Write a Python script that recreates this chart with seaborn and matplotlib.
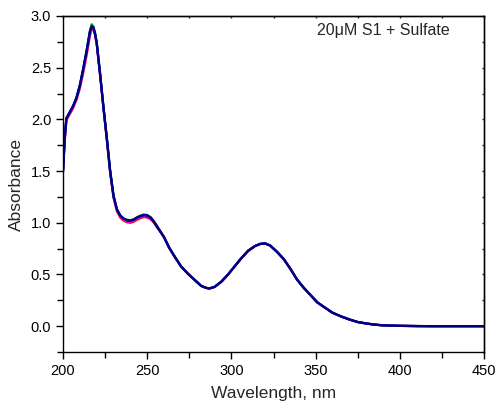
import numpy as np
import pandas as pd
import seaborn as sns
import matplotlib
matplotlib.use("Agg")
from matplotlib import pyplot as plt
from matplotlib.ticker import MultipleLocator

# wavelengths (nm)
wl_head = [200, 201, 202, 204, 206, 208, 210, 212, 214, 216, 217, 218, 219, 220, 222, 224,
           226, 228, 230, 232, 234, 236, 238, 240, 242, 244, 246, 248, 250, 252, 254, 256]
wl_tail = [258, 260, 263, 266, 270, 274, 278, 282, 285, 287, 290, 294, 298, 302, 306, 310,
           314, 317, 320, 323, 327, 331, 335, 339, 343, 347, 351, 355, 360, 365, 370, 375,
           380, 385, 390, 400, 410, 420, 430, 440, 450]

# absorbance, short wavelength part (curves differ a little here)
red_head = [1.49, 1.79, 1.99, 2.05, 2.11, 2.19, 2.30, 2.45, 2.62, 2.81, 2.87, 2.87, 2.82, 2.73, 2.43, 2.11,
            1.80, 1.48, 1.24, 1.11, 1.05, 1.02, 1.005, 1.00, 1.01, 1.03, 1.045, 1.055, 1.05, 1.035, 1.00, 0.95]
mag_head = [1.50, 1.80, 2.00, 2.06, 2.12, 2.20, 2.31, 2.47, 2.64, 2.83, 2.88, 2.88, 2.82, 2.73, 2.43, 2.11,
            1.81, 1.49, 1.25, 1.12, 1.06, 1.03, 1.015, 1.01, 1.02, 1.04, 1.055, 1.065, 1.06, 1.04, 1.005, 0.955]
grn_head = [1.51, 1.82, 2.01, 2.07, 2.13, 2.21, 2.33, 2.49, 2.67, 2.86, 2.92, 2.90, 2.84, 2.75, 2.45, 2.12,
            1.82, 1.50, 1.26, 1.13, 1.07, 1.04, 1.03, 1.025, 1.035, 1.055, 1.07, 1.08, 1.075, 1.055, 1.015, 0.965]
nav_head = [1.50, 1.82, 2.01, 2.07, 2.13, 2.21, 2.33, 2.49, 2.66, 2.85, 2.90, 2.89, 2.83, 2.74, 2.44, 2.12,
            1.82, 1.50, 1.26, 1.13, 1.07, 1.04, 1.025, 1.02, 1.03, 1.05, 1.065, 1.075, 1.07, 1.05, 1.01, 0.96]

# absorbance, long wavelength part (curves overlap)
tail = [0.91, 0.86, 0.76, 0.68, 0.58, 0.51, 0.45, 0.39, 0.37, 0.365, 0.38, 0.43, 0.50, 0.58, 0.66, 0.73,
        0.775, 0.795, 0.80, 0.78, 0.72, 0.65, 0.555, 0.45, 0.37, 0.30, 0.23, 0.185, 0.13, 0.095, 0.065, 0.04,
        0.026, 0.015, 0.008, 0.003, 0.001, 0.0, 0.0, 0.0, 0.0]

series = ["red", "magenta", "green", "blue", "navy"]
heads = [red_head, mag_head, grn_head, nav_head, nav_head]
colors = ["#ff0000", "#ff00ff", "#00a000", "#0000ff", "#000080"]

rows = []
for name, head in zip(series, heads):
    for w, a in zip(wl_head + wl_tail, head + tail):
        rows.append({"wl": w, "abs": a, "s": name})
df = pd.DataFrame(rows)

sns.set_style("ticks")
plt.rcParams['font.family'] = ['Liberation Sans', 'DejaVu Sans']

fig = plt.figure(figsize=(4.99, 4.07), dpi=100)
ax = fig.add_axes([0.1263, 0.1351, 0.8437, 0.8256])
sns.lineplot(data=df, x="wl", y="abs", hue="s", palette=colors, linewidth=1.6,
             legend=False, ax=ax, sort=False)

ax.set_xlim(200, 450)
ax.set_ylim(-0.25, 3.0)
ax.xaxis.set_major_locator(MultipleLocator(50))
ax.xaxis.set_minor_locator(MultipleLocator(25))
ax.yaxis.set_minor_locator(MultipleLocator(0.25))
ax.set_yticks([0.0, 0.5, 1.0, 1.5, 2.0, 2.5, 3.0])
ax.yaxis.set_major_formatter(matplotlib.ticker.FormatStrFormatter("%.1f"))

for sp in ax.spines.values():
    sp.set_linewidth(1.0)
    sp.set_color("black")

ax.tick_params(axis="both", which="both", direction="out", labelsize=10.5, colors="black",
               width=1.0)
ax.tick_params(which="major", length=5)
ax.tick_params(which="minor", length=4)

# tiny marks on top and right edges, like the original
for side in ["top", "right"]:
    sec = ax.secondary_xaxis("top") if side == "top" else ax.secondary_yaxis("right")
    axis = sec.xaxis if side == "top" else sec.yaxis
    if side == "top":
        axis.set_major_locator(MultipleLocator(25))
    else:
        axis.set_major_locator(MultipleLocator(0.25))
    sec.tick_params(direction="in", length=1.5, width=1.0, labelleft=False, labelright=False,
                    labeltop=False, labelbottom=False)
    sec.spines[side].set_linewidth(1.0)

ax.set_xlabel("Wavelength, nm", fontsize=12.5, labelpad=6)
ax.set_ylabel("Absorbance", fontsize=12.5, labelpad=5)
ax.text(0.76, 0.958, "20\u03bcM S1 + Sulfate", transform=ax.transAxes,
        ha="center", va="center", fontsize=11.5)

fig.savefig("out.png", dpi=100)
